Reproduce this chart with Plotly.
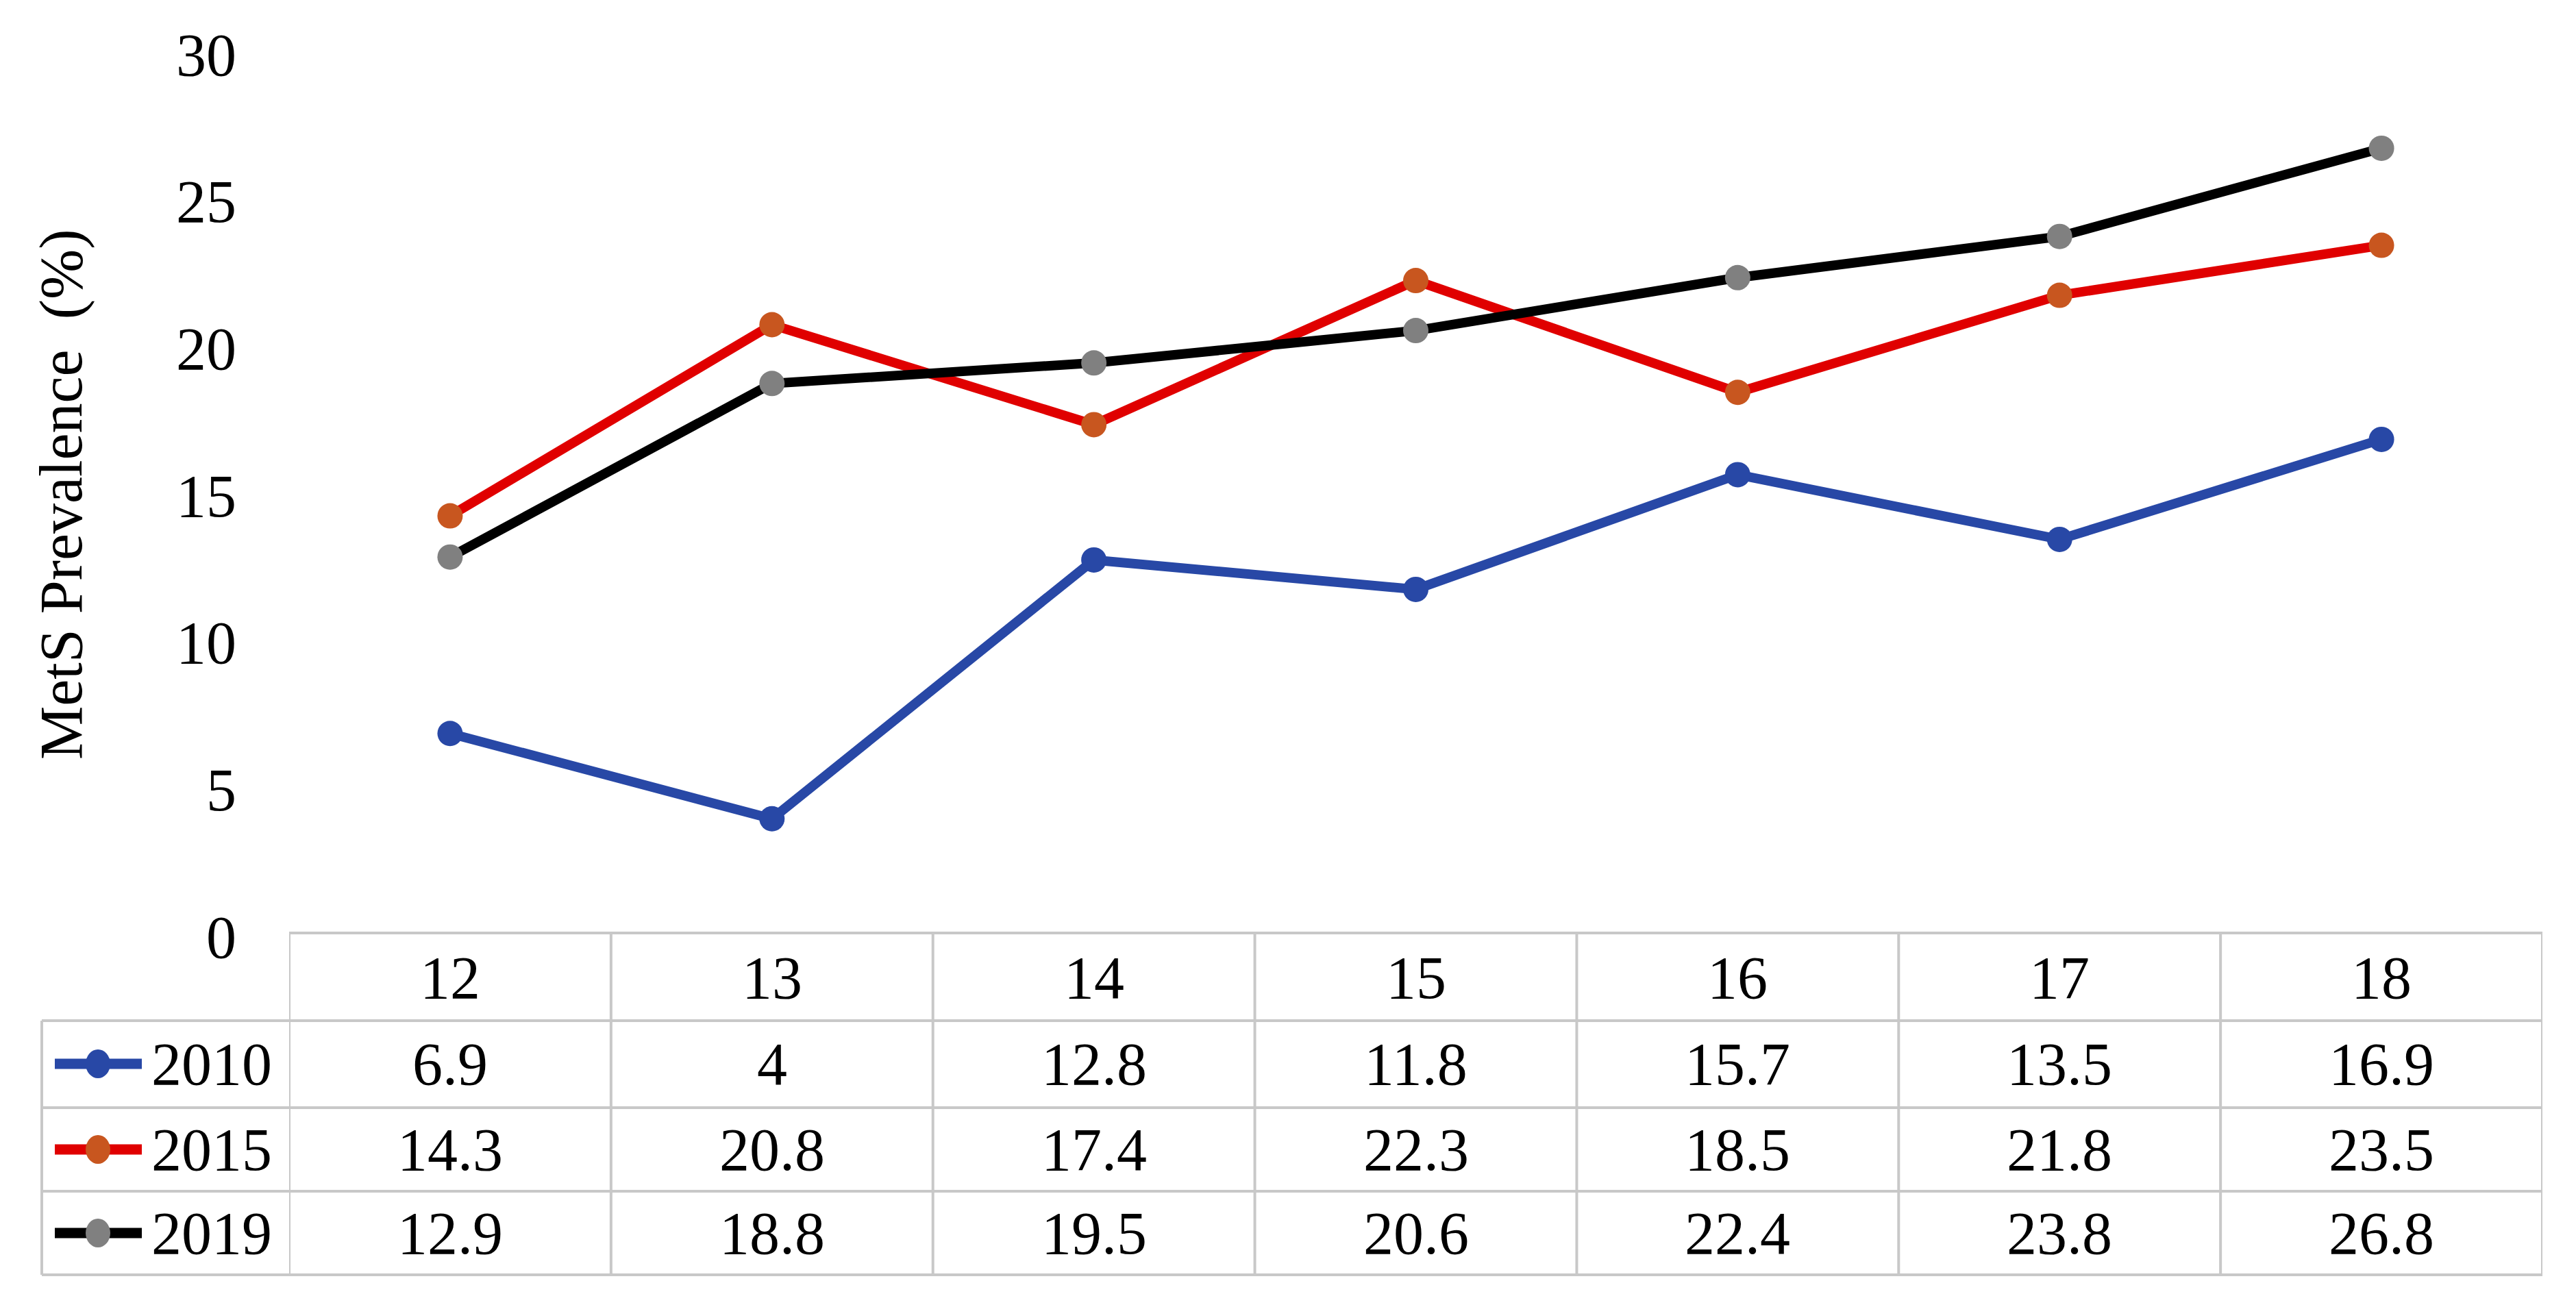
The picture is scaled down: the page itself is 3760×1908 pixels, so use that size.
import plotly.graph_objects as go

# ---- data ----
ages = ["12", "13", "14", "15", "16", "17", "18"]
years = ["2010", "2015", "2019"]
prev_2010 = [6.9, 4, 12.8, 11.8, 15.7, 13.5, 16.9]
prev_2015 = [14.3, 20.8, 17.4, 22.3, 18.5, 21.8, 23.5]
prev_2019 = [12.9, 18.8, 19.5, 20.6, 22.4, 23.8, 26.8]
y_ticks = [0, 5, 10, 15, 20, 25, 30]

series = [prev_2010, prev_2015, prev_2019]
line_colors = ["#2848A6", "#E00000", "#000000"]
marker_colors = ["#2848A6", "#C8561F", "#808080"]

W, H = 3760, 1908
FONT = "Liberation Serif, Times New Roman, serif"
FS = 88
GRID = "#C8C8C8"


def px(x):
    return x / W


def py(y):
    return 1 - y / H


fig = go.Figure()
for name, vals, lc, mc in zip(years, series, line_colors, marker_colors):
    fig.add_trace(go.Scatter(
        x=ages, y=vals, mode="lines+markers", name=name,
        line=dict(color=lc, width=14),
        marker=dict(color=mc, size=37, line=dict(width=0)),
        showlegend=False,
    ))

shapes = []
annotations = []

# table geometry (pixels)
row_lines = [1490, 1617, 1739, 1861]
table_top = 1362
legend_left = 61
row_centers = [1553, 1678, 1800]
header_center = 1427

# horizontal lines
shapes.append(dict(type="line", xref="x", yref="paper", x0=-0.5, x1=6.5,
                   y0=py(table_top), y1=py(table_top), line=dict(color=GRID, width=4)))
for yl in row_lines:
    shapes.append(dict(type="line", xref="paper", yref="paper", x0=px(legend_left), x1=px(3711),
                       y0=py(yl), y1=py(yl), line=dict(color=GRID, width=4)))
# vertical lines
shapes.append(dict(type="line", xref="paper", yref="paper", x0=px(legend_left), x1=px(legend_left),
                   y0=py(row_lines[0]), y1=py(row_lines[-1]), line=dict(color=GRID, width=4)))
for i in range(len(ages) + 1):
    shapes.append(dict(type="line", xref="x", yref="paper", x0=i - 0.5, x1=i - 0.5,
                       y0=py(table_top), y1=py(row_lines[-1]), line=dict(color=GRID, width=4)))

# header labels
for i, a in enumerate(ages):
    annotations.append(dict(x=i, y=py(header_center), xref="x", yref="paper", text=a,
                            showarrow=False, font=dict(family=FONT, size=FS, color="black"),
                            xanchor="center", yanchor="middle"))
# data rows + legend keys
for r, (name, vals, lc, mc) in enumerate(zip(years, series, line_colors, marker_colors)):
    yc = row_centers[r]
    for i, v in enumerate(vals):
        annotations.append(dict(x=i, y=py(yc), xref="x", yref="paper", text=f"{v:g}",
                                showarrow=False, font=dict(family=FONT, size=FS, color="black"),
                                xanchor="center", yanchor="middle"))
    shapes.append(dict(type="line", xref="paper", yref="paper", x0=px(80), x1=px(207),
                       y0=py(yc), y1=py(yc), line=dict(color=lc, width=15)))
    shapes.append(dict(type="circle", xref="paper", yref="paper", x0=px(143 - 18), x1=px(143 + 18),
                       y0=py(yc - 21), y1=py(yc + 21), fillcolor=mc, line=dict(width=0)))
    annotations.append(dict(x=px(219), y=py(yc), xref="paper", yref="paper", text=name,
                            showarrow=False, font=dict(family=FONT, size=FS, color="black"),
                            xanchor="left", yanchor="middle"))

# y-axis title
annotations.append(dict(x=px(89), y=py(722), xref="paper", yref="paper",
                        text="MetS Prevalence\u00a0 (%)", textangle=-90, showarrow=False,
                        font=dict(family=FONT, size=FS, color="black"),
                        xanchor="center", yanchor="middle"))

fig.update_layout(
    width=W, height=H,
    margin=dict(l=0, r=0, t=0, b=0),
    paper_bgcolor="white", plot_bgcolor="white",
    shapes=shapes, annotations=annotations,
    xaxis=dict(domain=[px(422), px(3711)], range=[-0.5, 6.5], type="category",
               showticklabels=False, showgrid=False, zeroline=False, showline=False, ticks="",
               automargin=False),
    yaxis=dict(domain=[py(1367), py(79)], range=[0, 30], tickvals=y_ticks,
               showgrid=False, zeroline=False, showline=False, ticks="",
               ticklabelstandoff=76, automargin=False,
               tickfont=dict(family=FONT, size=FS, color="black")),
)

fig.write_html("out.html", config={"displayModeBar": False},
               post_script="document.body.style.margin='0';document.body.style.overflow='hidden';")
